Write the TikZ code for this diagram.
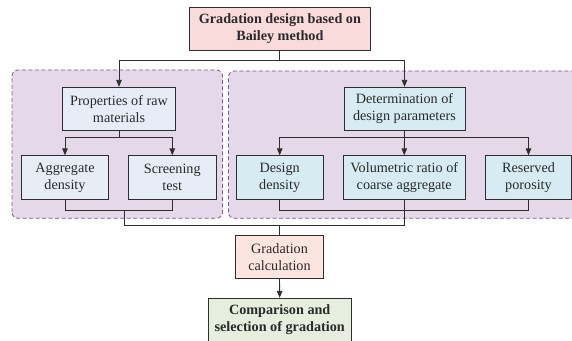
\documentclass[tikz,border=0pt]{standalone}
\usepackage{fontspec}
\setmainfont{Liberation Serif}
\usetikzlibrary{arrows.meta}
\definecolor{linec}{HTML}{2E2E2E}
\definecolor{textc}{HTML}{2A2A2A}
\definecolor{groupfill}{HTML}{E4D8E9}
\definecolor{groupline}{HTML}{7A5A8C}
\definecolor{topfill}{HTML}{F9DBDB}
\definecolor{rawfill}{HTML}{E7EDF7}
\definecolor{parfill}{HTML}{D6ECF2}
\definecolor{calcfill}{HTML}{FCE5DE}
\definecolor{cmpfill}{HTML}{E6EEDD}
\begin{document}
\begin{tikzpicture}[x=1pt,y=1pt,
  font=\fontsize{14.2}{17}\selectfont,
  box/.style={draw=linec, line width=0.9pt, align=center, inner sep=0pt,
    text=textc, minimum height=43.4pt},
  group/.style={draw=groupline, fill=groupfill, dashed, dash pattern=on 4pt off 2.5pt,
    line width=0.8pt, rounded corners=6pt},
  link/.style={draw=linec, line width=0.9pt},
  arr/.style={link, -{Triangle[length=7pt,width=5.5pt]}}]
\useasboundingbox (0,0) rectangle (572,340);
\clip (0,0) rectangle (572,340);

% dashed groups
\draw[group] (12,121.7) rectangle (222.5,270);
\draw[group] (228.5,121.7) rectangle (590,269);

% boxes
\node[box, fill=topfill, minimum width=181.7pt, font=\fontsize{14.2}{17}\selectfont\bfseries]
  (top) at (279.9,311) {Gradation design based on\\Bailey method};
\node[box, fill=rawfill, minimum width=113.4pt] (props) at (119,231) {Properties of raw\\materials};
\node[box, fill=parfill, minimum width=121pt] (det) at (404.5,231) {Determination of\\design parameters};
\node[box, fill=rawfill, minimum width=86.6pt] (agg) at (65,162.5) {Aggregate\\density};
\node[box, fill=rawfill, minimum width=87.3pt] (scr) at (172.3,162.5) {Screening\\test};
\node[box, fill=parfill, minimum width=87.3pt] (des) at (279.7,162.5) {Design\\density};
\node[box, fill=parfill, minimum width=121.7pt] (vol) at (404.2,162.5) {Volumetric ratio of\\coarse aggregate};
\node[box, fill=parfill, minimum width=86pt] (res) at (528.5,162.5) {Reserved\\porosity};
\node[box, fill=calcfill, minimum width=87.6pt] (grad) at (279.5,83.3) {Gradation\\calculation};
\node[box, fill=cmpfill, minimum width=142.7pt, font=\fontsize{14.2}{17}\selectfont\bfseries]
  (comp) at (279.7,20) {Comparison and\\selection of gradation};

% branch points
\coordinate (t0) at (279.9,279.7);
\coordinate (p0) at (119,202.3);
\coordinate (d0) at (404.5,202.3);
\coordinate (lj) at (124.3,129.4);
\coordinate (rj) at (279.5,114.3);

% top split
\draw[link] (top.south) -- (t0);
\draw[arr] (t0) -| (props.north);
\draw[arr] (t0) -| (det.north);

% raw material split
\draw[link] (props.south) -- (p0);
\draw[arr] (p0) -| (agg.north);
\draw[arr] (p0) -| (scr.north);

% design parameter split
\draw[link] (det.south) -- (d0);
\draw[arr] (d0) -| (des.north);
\draw[arr] (d0) -- (vol.north);
\draw[arr] (d0) -| (res.north);

% joins
\draw[link] (agg.south) |- (lj) -| (scr.south);
\draw[link] (des.south) |- (res.south |- lj) -- (res.south);
\draw[link] (lj) |- (rj) -| (vol.south);
\draw[link] (rj) -- (grad.north);
\draw[arr] (grad.south) -- (comp.north);
\end{tikzpicture}
\end{document}
